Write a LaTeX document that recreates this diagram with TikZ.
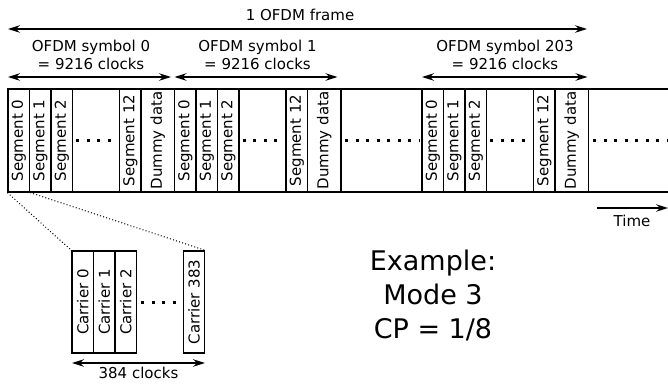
\documentclass[tikz,border=0pt]{standalone}
\usepackage{fontspec}
\setmainfont{DejaVu Sans}
\usetikzlibrary{arrows.meta,calc}

% one OFDM symbol: segments 0..2, gap, segment 12, dummy data
\newcommand\ofdmsymbol[2]{%
  \node[cell, minimum height=21.5pt] (#1s0) at (#2+10.75,140.5) {Segment 0};
  \node[cell, minimum height=21.5pt] (#1s1) at (#2+32.25,140.5) {Segment 1};
  \node[cell, minimum height=21.5pt] (#1s2) at (#2+53.75,140.5) {Segment 2};
  \node[cell, minimum height=21.5pt] (#1s12) at (#2+122.25,140.5) {Segment 12};
  \node[cell, minimum height=33.5pt] (#1dd) at (#2+149.75,140.5) {Dummy data};
  \draw[dotrow] (#1s2.south) ++(3,0) -- ($(#1s12.north)+(-3,0)$);
}

\begin{document}
\begin{tikzpicture}[x=1pt,y=-1pt,
  txt/.style={font=\fontsize{15}{18}\selectfont, inner sep=0pt},
  cell/.style={draw, line width=1.2pt, rotate=90, minimum width=103pt,
    inner sep=0pt, font=\fontsize{15}{18}\selectfont},
  dotrow/.style={line width=3pt, dash pattern=on 3pt off 7.5pt},
  zoomline/.style={line width=1pt, dash pattern=on 1pt off 2.2pt},
  arr/.style={line width=1.2pt},
  >={Stealth[length=12pt,width=7.5pt,inset=4pt]}
]
\useasboundingbox (0,0) rectangle (668,383);

% frame arrow
\node[txt, anchor=base] (frame) at (300,20) {1 OFDM frame};
\coordinate (fL) at (8,29);
\coordinate (fR) at (587,29);
\draw[arr,<->] (fL) -- (fR);

% symbol labels and arrows
\node[txt, anchor=base, align=center] (lab0) at (91,69) {OFDM symbol 0\\= 9216 clocks};
\node[txt, anchor=base, align=center] (lab1) at (257.5,69) {OFDM symbol 1\\= 9216 clocks};
\node[txt, anchor=base, align=center] (lab203) at (505,69) {OFDM symbol 203\\= 9216 clocks};
\coordinate (a0L) at (8,77);   \coordinate (a0R) at (171,77);
\coordinate (a1L) at (174.5,77); \coordinate (a1R) at (337.5,77);
\coordinate (a2L) at (422,77); \coordinate (a2R) at (587.5,77);
\draw[arr,<->] (a0L) -- (a0R);
\draw[arr,<->] (a1L) -- (a1R);
\draw[arr,<->] (a2L) -- (a2R);

% strip of symbols
\draw[line width=1.2pt] (8,89) -- (668,89);
\draw[line width=1.2pt] (8,192) -- (668,192);
\ofdmsymbol{A}{8}
\ofdmsymbol{B}{174.5}
\ofdmsymbol{C}{422}
\draw[dotrow] (345,140.5) -- (420,140.5);
\draw[dotrow] (593,140.5) -- (668,140.5);

% time arrow
\coordinate (t0) at (597,208);
\coordinate (t1) at (668,208);
\draw[arr,->] (t0) -- (t1);
\node[txt, anchor=base] (time) at (632,226) {Time};

% carriers of segment 0
\node[cell, minimum width=102pt, minimum height=21.5pt] (c0) at (82.75,302) {Carrier 0};
\node[cell, minimum width=102pt, minimum height=21.5pt] (c1) at (104.25,302) {Carrier 1};
\node[cell, minimum width=102pt, minimum height=21.5pt] (c2) at (125.75,302) {Carrier 2};
\node[cell, minimum width=102pt, minimum height=21.5pt] (c383) at (194,302) {Carrier 383};
\draw[dotrow] ($(c2.south)+(4,0)$) -- ($(c383.north)+(-3,0)$);

% zoom lines
\draw[zoomline] (As0.north west) -- (c0.north east);
\draw[zoomline] (As0.south west) -- (c383.south east);

% carrier width
\coordinate (cL) at (72,363);
\coordinate (cR) at (205,363);
\draw[arr,<->] (cL) -- (cR);
\node[txt, anchor=base] (clk) at (138.5,378) {384 clocks};

% example parameters
\node[anchor=base, align=center, inner sep=0pt, font=\fontsize{27}{34}\selectfont] (ex) at (433,338) {Example:\\Mode 3\\CP = 1/8};
\end{tikzpicture}
\end{document}
